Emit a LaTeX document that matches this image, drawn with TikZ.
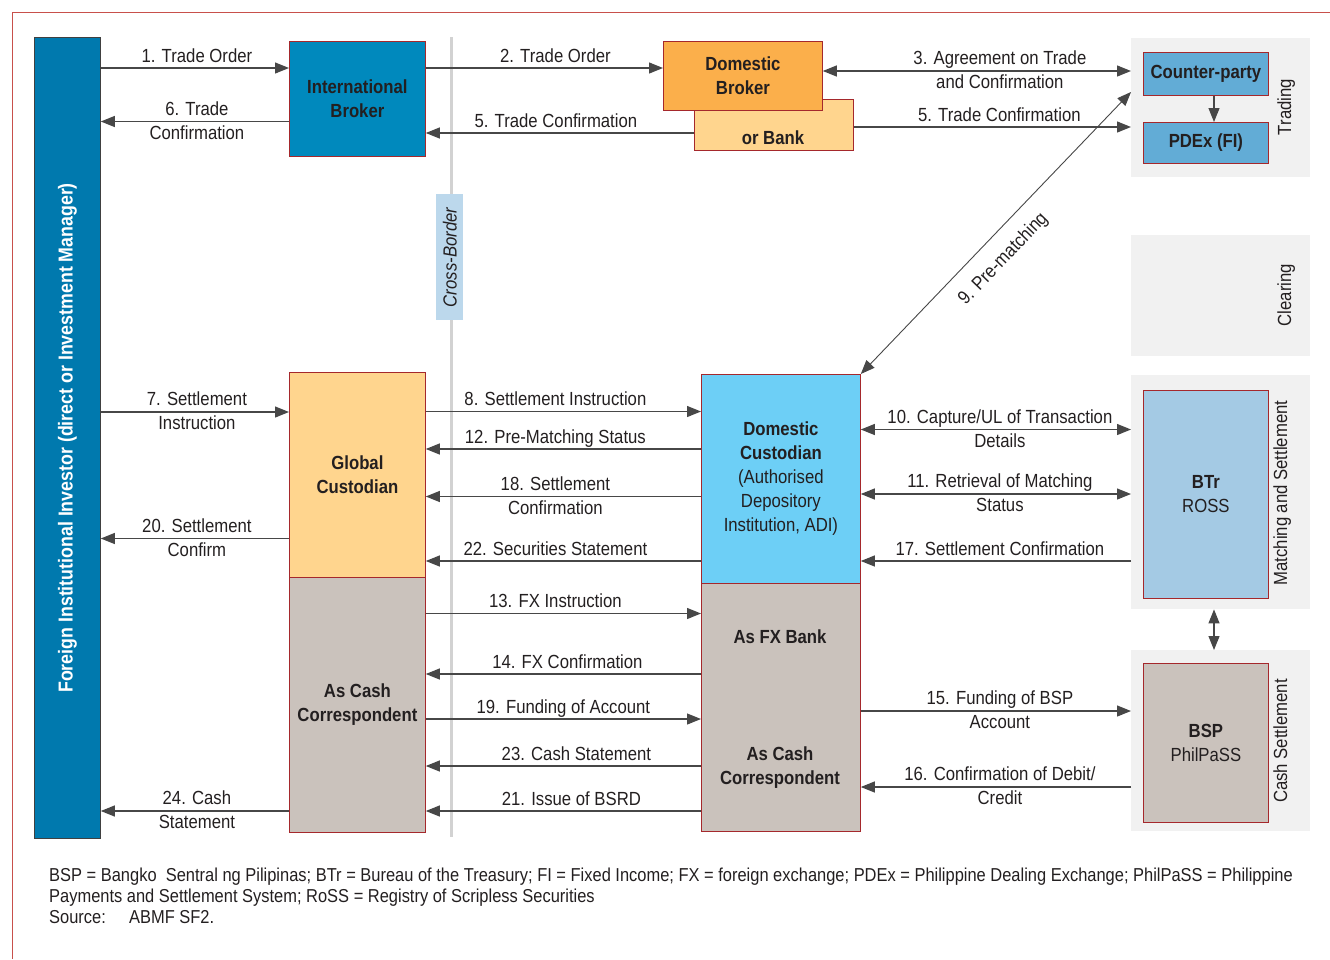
\documentclass[tikz,border=0pt]{standalone}
\usepackage{fontspec}
\setmainfont{Liberation Sans}[FakeStretch=0.88]
\usetikzlibrary{arrows.meta}
\definecolor{ink}{HTML}{231F20}
\definecolor{barblue}{HTML}{0079AE}
\definecolor{ibblue}{HTML}{0089BD}
\definecolor{boxred}{HTML}{A5282C}
\definecolor{orangeA}{HTML}{FBAF4B}
\definecolor{orangeB}{HTML}{FFD58E}
\definecolor{cpblue}{HTML}{62ACD6}
\definecolor{btrblue}{HTML}{A4CAE4}
\definecolor{skyblue}{HTML}{6DCFF6}
\definecolor{taupe}{HTML}{CAC2BC}
\definecolor{grpgray}{HTML}{F1F1F1}
\definecolor{cbblue}{HTML}{BCD8EC}
\definecolor{framered}{HTML}{C8504B}
\definecolor{divgray}{HTML}{D2D2D2}
\begin{document}
\begin{tikzpicture}[x=1pt,y=-1pt,
  font=\fontsize{19}{24}\selectfont, text=ink,
  >={Triangle[length=14pt,width=11pt]},
  con/.style={draw=black!72, line width=1.2pt},
  box/.style={draw=boxred, line width=0.8pt, inner sep=0pt, align=center, anchor=north west},
  grp/.style={fill=grpgray, inner sep=0pt, anchor=north west},
  lab/.style={midway, anchor=base, yshift=6pt},
  labtwo/.style={midway, align=center, anchor=center, yshift=1pt},
  vlab/.style={rotate=90, anchor=base},
  bold/.style={font=\bfseries\fontsize{19}{24}\selectfont},
  foot/.style={anchor=base west, inner sep=0pt, font=\fontsize{18.7}{21}\selectfont},
]
\useasboundingbox (0,0) rectangle (1330,959);
% frame
\draw[framered, line width=0.8pt] (12,959) -- (12,12) -- (1330,12);
% cross-border divider
\draw[divgray, line width=3pt] (451,37) -- (451,837);
\node[box, draw=none, fill=cbblue, minimum width=27, minimum height=126] (cb) at (436,194) {};
\node[rotate=90, font=\itshape\fontsize{19}{24}\selectfont] at (cb.center) {Cross-Border};

% left bar
\node[box, draw=black!75, fill=barblue, minimum width=66, minimum height=801] (fii) at (34,37) {};
\node[rotate=90, text=white, font=\bfseries\fontsize{20.2}{24}\selectfont] at (fii.center) {Foreign Institutional Investor (direct or Investment Manager)};

% brokers
\node[box, fill=ibblue, minimum width=136, minimum height=115, bold] (ib) at (289,41) {International\\Broker};
\node[box, fill=orangeB, minimum width=159, minimum height=51] (ob) at (694,99) {};
\node[bold] at (773,138) {or Bank};
\node[box, fill=orangeA, minimum width=159, minimum height=69, bold] (db) at (663,41) {Domestic\\Broker};

% groups on the right
\node[grp, minimum width=179, minimum height=139] (gtrade) at (1131,38) {};
\node[grp, minimum width=179, minimum height=121] (gclear) at (1131,235) {};
\node[grp, minimum width=179, minimum height=234] (gmatch) at (1131,375) {};
\node[grp, minimum width=179, minimum height=181] (gcash) at (1131,650) {};
\node[vlab] at (1291,107) {Trading};
\node[vlab] at (1291,295) {Clearing};
\node[vlab] at (1287,493) {Matching and Settlement};
\node[vlab] at (1287,741) {Cash Settlement};

\node[box, fill=cpblue, minimum width=125, minimum height=43, bold] (cp) at (1143,52) {Counter-party};
\node[box, fill=cpblue, minimum width=125, minimum height=41, bold] (pdex) at (1143,122) {PDEx (FI)};
\node[box, fill=btrblue, minimum width=125, minimum height=208] (btr) at (1143,390) {\textbf{BTr}\\ROSS};
\node[box, fill=taupe, minimum width=125, minimum height=159] (bsp) at (1143,663) {\textbf{BSP}\\PhilPaSS};

% custodians
\node[box, fill=orangeB, minimum width=136, minimum height=205, bold] (gc) at (289,372) {Global\\Custodian};
\node[box, fill=taupe, minimum width=136, minimum height=255, bold] (lcc) at (289,577) {As Cash\\Correspondent};
\node[box, fill=skyblue, minimum width=159, minimum height=209] (dc) at (701,374) {\textbf{Domestic}\\\textbf{Custodian}\\(Authorised\\Depository\\Institution, ADI)};
\node[box, fill=taupe, minimum width=159, minimum height=248] (fx) at (701,583) {};
\node[bold] at (780,637) {As FX Bank};
\node[bold, align=center] at (780,768) {As Cash\\Correspondent};

% left column connectors
\draw[con,->] (fii.east |- 0,68) -- (ib.west |- 0,68) node[lab, xshift=2pt] {1. Trade Order};
\draw[con,->] (ib.west |- 0,121.5) -- (fii.east |- 0,121.5) node[labtwo, xshift=2pt] {6. Trade\\Confirmation};
\draw[con,->] (fii.east |- 0,412) -- (gc.west |- 0,412) node[labtwo, xshift=2pt] {7. Settlement\\Instruction};
\draw[con,->] (gc.west |- 0,538.5) -- (fii.east |- 0,538.5) node[labtwo, xshift=2pt] {20. Settlement\\Confirm};
\draw[con,->] (lcc.west |- 0,811) -- (fii.east |- 0,811) node[labtwo, xshift=2pt] {24. Cash\\Statement};

% top middle
\draw[con,->] (ib.east |- 0,68) -- (db.west |- 0,68) node[lab, xshift=11pt] {2. Trade Order};
\draw[con,->] (ob.west |- 0,133) -- (ib.east |- 0,133) node[lab, xshift=-4pt] {5. Trade Confirmation};

% middle column
\draw[con,->] (gc.east |- 0,411.5) -- (dc.west |- 0,411.5) node[lab, xshift=-8pt] {8. Settlement Instruction};
\draw[con,->] (dc.west |- 0,449) -- (gc.east |- 0,449) node[lab, xshift=-8pt] {12. Pre-Matching Status};
\draw[con,->] (dc.west |- 0,496.5) -- (gc.east |- 0,496.5) node[labtwo, xshift=-8pt] {18. Settlement\\Confirmation};
\draw[con,->] (dc.west |- 0,561) -- (gc.east |- 0,561) node[lab, xshift=-8pt] {22. Securities Statement};
\draw[con,->] (lcc.east |- 0,613.5) -- (fx.west |- 0,613.5) node[lab, xshift=-8pt] {13. FX Instruction};
\draw[con,->] (fx.west |- 0,674) -- (lcc.east |- 0,674) node[lab, xshift=4pt] {14. FX Confirmation};
\draw[con,->] (lcc.east |- 0,719) -- (fx.west |- 0,719) node[lab] {19. Funding of Account};
\draw[con,->] (fx.west |- 0,766) -- (lcc.east |- 0,766) node[lab, xshift=13pt] {23. Cash Statement};
\draw[con,->] (fx.west |- 0,811) -- (lcc.east |- 0,811) node[lab, xshift=8pt] {21. Issue of BSRD};

% right column
\draw[con,<->] (db.east |- 0,71) -- (gtrade.west |- 0,71) node[labtwo, xshift=23pt] {3. Agreement on Trade\\and Confirmation};
\draw[con,->] (ob.east |- 0,127) -- (gtrade.west |- 0,127) node[lab, xshift=7pt] {5. Trade Confirmation};
\draw[con,->] (1214,0 |- cp.south) -- (1214,0 |- pdex.north);
\draw[con, line width=0.9pt, <->] (dc.north east) -- (gtrade.west |- 0,92) node[pos=0.465, sloped, below, yshift=-11pt] {9. Pre-matching};
\draw[con,<->] (dc.east |- 0,429.5) -- (gmatch.west |- 0,429.5) node[labtwo, xshift=4pt] {10. Capture/UL of Transaction\\Details};
\draw[con,<->] (dc.east |- 0,494) -- (gmatch.west |- 0,494) node[labtwo, xshift=4pt] {11. Retrieval of Matching\\Status};
\draw[con,->] (gmatch.west |- 0,561) -- (dc.east |- 0,561) node[lab, xshift=4pt] {17. Settlement Confirmation};
\draw[con,->] (fx.east |- 0,711) -- (gcash.west |- 0,711) node[labtwo, xshift=4pt] {15. Funding of BSP\\Account};
\draw[con,->] (gcash.west |- 0,787) -- (fx.east |- 0,787) node[labtwo, xshift=4pt] {16. Confirmation of Debit/\\Credit};
\draw[con,<->] (1214,0 |- gmatch.south) -- (1214,0 |- gcash.north);

% footer
\node[foot] (f1) at (49,881) {BSP = Bangko~ Sentral ng Pilipinas; BTr = Bureau of the Treasury; FI = Fixed Income; FX = foreign exchange; PDEx = Philippine Dealing Exchange; PhilPaSS = Philippine};
\node[foot] (f2) at (49,902) {Payments and Settlement System; RoSS = Registry of Scripless Securities};
\node[foot] (f3) at (49,923) {\makebox[80pt][l]{Source:}ABMF SF2.};
\end{tikzpicture}
\end{document}
